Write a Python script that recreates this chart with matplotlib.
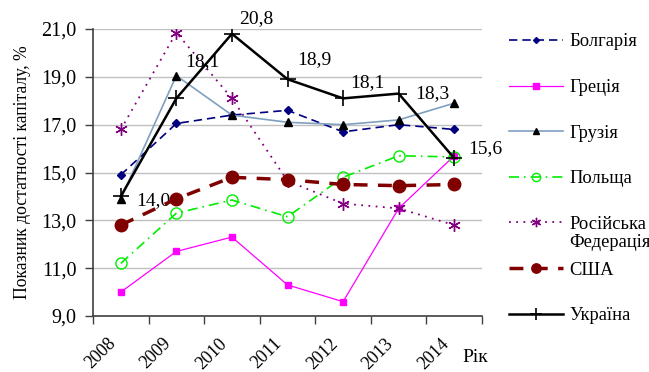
import matplotlib
matplotlib.use("Agg")
import matplotlib.pyplot as plt
from matplotlib.ticker import FixedLocator, NullFormatter

years = ["2008", "2009", "2010", "2011", "2012", "2013", "2014"]

bulgaria = [14.9, 17.05, 17.4, 17.6, 16.7, 17.0, 16.8]
greece = [10.0, 11.7, 12.3, 10.3, 9.6, 13.5, 15.7]
georgia = [13.9, 19.05, 17.4, 17.1, 17.0, 17.2, 17.9]
poland = [11.2, 13.3, 13.85, 13.15, 14.8, 15.7, 15.65]
russia = [16.8, 20.85, 18.1, 14.65, 13.7, 13.5, 12.8]
usa = [12.8, 13.9, 14.8, 14.7, 14.5, 14.45, 14.5]
ukraine = [14.0, 18.1, 20.8, 18.9, 18.1, 18.3, 15.6]

yticks = [9, 11, 13, 15, 17, 19, 21]

plt.rcParams["font.family"] = ["Liberation Serif", "DejaVu Serif"]
plt.rcParams["font.size"] = 13

fig = plt.figure(figsize=(6.49, 3.72), dpi=100)
ax = fig.add_axes([0.1433, 0.1505, 0.5994, 0.7715])

x = list(range(len(years)))

ax.plot(x, bulgaria, color="#000080", ls=(0, (5, 3)), lw=1.2, marker="D",
        ms=4, label="Болгарія", zorder=3)
ax.plot(x, greece, color="#ff00ff", ls="-", lw=0.9, marker="s", ms=5,
        label="Греція", zorder=3)
ax.plot(x, georgia, color="#7f9fbf", ls="-", lw=1.2, marker="^", ms=6,
        mfc="black", mec="black", label="Грузія", zorder=3)
ax.plot(x, poland, color="#00ee00", ls=(0, (6, 3, 1, 3)), lw=1.2, marker="o",
        ms=8, mfc="none", mec="#00ee00", label="Польща", zorder=3)
ax.plot(x, russia, color="#800080", ls=(0, (1, 3)), lw=1.3, marker=(6, 2, 0),
        ms=9, mew=1.0, label="Російська", zorder=3)
ax.plot(x, usa, color="#800000", ls=(0, (4, 3)), lw=2.5, marker="o", ms=9,
        label="США", zorder=4)
ax.plot(x, ukraine, color="black", ls="-", lw=1.8, marker="+", ms=12, mew=1.2,
        label="Україна", zorder=5)

# value labels for Ukraine (offsets in pixels)
offsets = [(15, -4), (9, 37), (7, 15), (10, 20), (7, 16), (17, 0), (14, 10)]
for xi, v, (dx, dy) in zip(x, ukraine, offsets):
    ax.annotate(f"{v:.1f}".replace(".", ","), (xi, v), xytext=(dx, dy),
                textcoords="offset pixels", fontsize=14, va="center", ha="left")

ax.set_xlim(-0.5, len(years) - 0.5)
ax.set_ylim(9, 21)
ax.set_yticks(yticks)
ax.set_yticklabels([f"{t:.1f}".replace(".", ",") for t in yticks], fontsize=14.5)
ax.yaxis.grid(True, color="#c0c0c0", lw=1)
ax.set_axisbelow(True)

# ticks on category boundaries, year labels slanted under each category
ax.xaxis.set_major_locator(FixedLocator([i - 0.5 for i in range(len(years) + 1)]))
ax.xaxis.set_major_formatter(NullFormatter())
ax.tick_params(axis="both", which="major", direction="out", length=6,
               color="#404040", width=1)
ax.tick_params(axis="y", pad=6)
for xi, yr in zip(x, years):
    ax.annotate(yr, (xi, 0), xycoords=ax.get_xaxis_transform(),
                xytext=(-14, -19), textcoords="offset pixels", fontsize=13,
                rotation=45, ha="right", va="top", rotation_mode="anchor")

for side in ("top", "right"):
    ax.spines[side].set_visible(False)
for side in ("left", "bottom"):
    ax.spines[side].set_color("#404040")
    ax.spines[side].set_linewidth(1.2)

ax.set_ylabel("Показник достатності капіталу, %", fontsize=12.7, labelpad=7)
ax.text(0.982, -0.143, "Рік", transform=ax.transAxes, fontsize=14,
        ha="center", va="center")

leg = fig.legend(loc="upper left", bbox_to_anchor=(0.77, 0.935), frameon=False,
                 handlelength=2.9, labelspacing=1.55, handletextpad=0.35,
                 fontsize=13.3, borderpad=0, markerscale=0.75)

# second line of the Russia entry hangs below the first
fig.canvas.draw()
bb = leg.get_texts()[4].get_window_extent()
fig.text(bb.x0 / fig.bbox.width, (bb.y0 - 1) / fig.bbox.height, "Федерація",
         fontsize=13.3, va="top", ha="left")

fig.savefig("out.png", dpi=100)
